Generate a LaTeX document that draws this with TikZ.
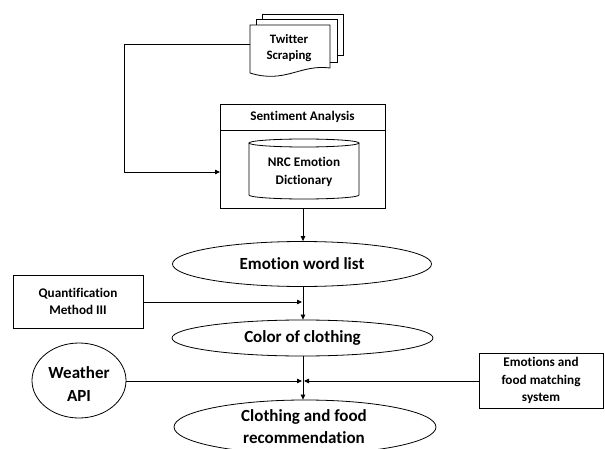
\documentclass[tikz,border=0pt]{standalone}
\usepackage{fontspec}
\setmainfont[Ligatures={NoCommon}]{Carlito}
\usetikzlibrary{arrows.meta,calc,shapes.geometric}
\begin{document}
\begin{tikzpicture}[x=1pt,y=1pt,
  every path/.style={line width=0.8pt},
  conn/.style={line width=0.8pt,-{Triangle[length=5pt,width=4.5pt]}},
  boxnode/.style={draw,line width=0.8pt,rectangle,inner sep=1pt,align=center,font=\bfseries\fontsize{13.2}{17.5}\selectfont},
  ellnode/.style={draw,line width=0.8pt,ellipse,inner sep=0pt},
  bigtext/.style={align=center,font=\bfseries\fontsize{17}{22.5}\selectfont},
  smalltext/.style={align=center,font=\bfseries\fontsize{13.2}{17.5}\selectfont}]
\useasboundingbox (0,0) rectangle (605,448);
% Twitter multi-document
\draw (262,429) -- (262,434) -- (343,434) -- (343,393) -- (337,393);
\draw (256,423) -- (256,429) -- (337,429) -- (337,386) -- (330,386);
\draw (250,423) -- (330,423) -- (330,380) .. controls (300,384) and (285,364) .. (250,375) -- cycle;
\node[smalltext,font=\bfseries\fontsize{12.8}{16.5}\selectfont] (tw) at (289,400) {Twitter\\Scraping};
\coordinate (twl) at (250,404);
\coordinate (bend) at (124,404);
% Sentiment analysis box
\node[draw,minimum width=165,minimum height=104,inner sep=0pt] (sa) at (302.5,292) {};
\draw (220,318) -- (385,318);
\node[smalltext] (sat) at (302.5,331) {Sentiment Analysis};
% cylinder
\draw (249,305) -- (249,253) arc[start angle=180,end angle=360,x radius=55,y radius=4] -- (359,305);
\draw (304,305) ellipse[x radius=55,y radius=4];
\node[smalltext,font=\bfseries\fontsize{13.2}{18}\selectfont] (nrc) at (304,276) {NRC Emotion\\Dictionary};
\coordinate (sain) at (220,276);
\draw[conn] (twl) -- (bend) |- (sain);
% ellipses
\node[ellnode,minimum width=259,minimum height=45] (ewl) at (302,184) {};
\node[bigtext] (ewlt) at (ewl.center) {Emotion word list};
\node[ellnode,minimum width=261,minimum height=36] (col) at (302.5,110) {};
\node[bigtext] (colt) at (col.center) {Color of clothing};
\node[ellnode,minimum width=262,minimum height=54] (rec) at (305,21) {};
\node[bigtext,font=\bfseries\fontsize{17}{22}\selectfont] (rect) at (304,21.5) {Clothing and food\\recommendation};
\node[ellnode,minimum width=94,minimum height=75] (wea) at (79,67.5) {};
\node[bigtext] (weat) at (79,64) {Weather\\API};
% boxes
\node[boxnode,minimum width=130,minimum height=53] (qm) at (78,146.5) {Quantification\\Method III};
\node[boxnode,minimum width=124,minimum height=55] (efm) at (541,67.5) {Emotions and\\food matching\\system};
% connectors
\draw[conn] (sa.south -| 303,0) -- (ewl.north -| 303,0);
\draw[conn] (ewl.south -| 303,0) -- (col.north -| 303,0);
\coordinate (qmend) at (302,146);
\draw[conn] (qm.east |- qmend) -- (qmend);
\draw[conn] (col.south -| 303,0) -- (rec.north -| 303,0);
\coordinate (weaend) at (302,67);
\coordinate (efmend) at (304,67);
\draw[conn] (wea.east |- weaend) -- (weaend);
\draw[conn] (efm.west |- efmend) -- (efmend);
\end{tikzpicture}
\end{document}
